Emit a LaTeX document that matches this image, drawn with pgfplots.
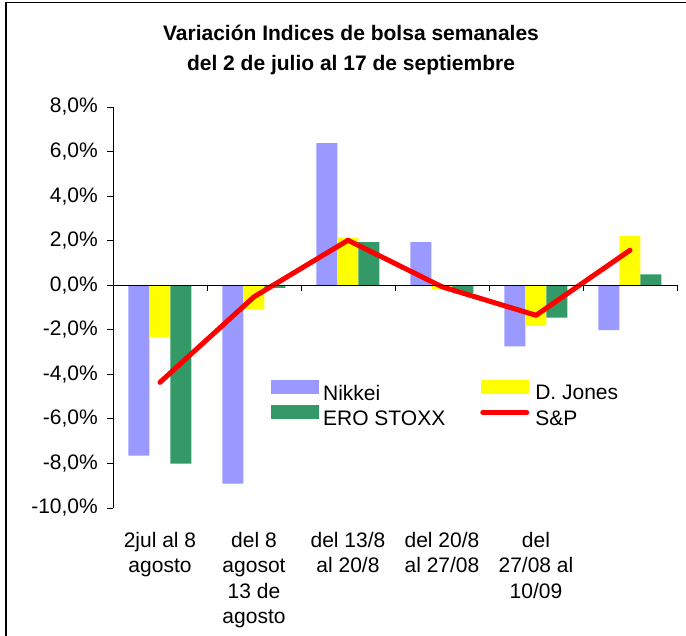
\documentclass[border=0pt]{standalone}
\usepackage{fontspec}
\setmainfont{Liberation Sans}
\usepackage{pgfplots}
\pgfplotsset{compat=1.18}
\definecolor{nik}{HTML}{9999FF}
\definecolor{dj}{HTML}{FFFF00}
\definecolor{ero}{HTML}{339966}
\definecolor{sp}{HTML}{FF0000}
\pgfplotsset{
  barleg/.style={legend image code/.code={\fill[##1] (0pt,0pt) rectangle (48pt,14pt); \path (50pt,7pt);}},
  lineleg/.style={legend image code/.code={\draw[##1] (2pt,7pt) -- (46pt,7pt); \path (50pt,7pt);}},
}
\begin{document}
\fontsize{21}{25}\selectfont
\begin{tikzpicture}
\path[use as bounding box] (0pt,0pt) rectangle (686pt,636pt);
\draw[line width=1.5pt] (6pt,0pt) -- (6pt,633.5pt) -- (686pt,633.5pt);
\node[align=center, font=\bfseries\fontsize{21}{30}\selectfont] at (351pt,586pt) {Variación Indices de bolsa semanales\\del 2 de julio al 17 de septiembre};
\begin{axis}[
  at={(113pt,128pt)}, anchor=south west, scale only axis,
  width=564pt, height=401pt,
  xmin=-0.5, xmax=5.5, ymin=-10, ymax=8,
  axis y line*=left, axis x line*=bottom,
  x axis line style={draw=none},
  y axis line style={line width=0.8pt},
  ytick={-10,-8,...,8},
  yticklabels={{-10,0\%},{-8,0\%},{-6,0\%},{-4,0\%},{-2,0\%},{0,0\%},{2,0\%},{4,0\%},{6,0\%},{8,0\%}},
  tick align=outside, major tick length=6pt,
  y tick style={line width=0.8pt, black},
  xtick={0,1,2,3,4,5},
  x tick style={draw=none},
  xticklabels={{2jul al 8\\agosto},{del 8\\agosot\\13 de\\agosto},{del 13/8\\al 20/8},{del 20/8\\al 27/08},{del\\27/08 al\\10/09},{}},
  xticklabel style={align=center, anchor=north, inner sep=0pt, yshift=-18pt, font=\fontsize{21}{25.5}\selectfont},
  yticklabel style={anchor=east, inner sep=0pt, xshift=-9pt, font=\fontsize{21}{25}\selectfont},
  legend columns=2,
  legend style={at={(0.280,0.319)}, anchor=north west, draw=none, fill=none, inner sep=0pt,
    row sep=0pt, font=\fontsize{21}{25}\selectfont,
    /tikz/every even column/.append style={column sep=33pt}},
  legend cell align=left,
  clip=false,
]
\addplot[ybar, bar width=21pt, bar shift=-21pt, fill=nik, draw=none, barleg]
  coordinates {(0,-7.65) (1,-8.91) (2,6.38) (3,1.93) (4,-2.74) (5,-2.02)};
\addlegendentry{Nikkei}
\addplot[ybar, bar width=21pt, bar shift=0pt, fill=dj, draw=none, barleg]
  coordinates {(0,-2.33) (1,-1.08) (2,2.14) (3,-0.19) (4,-1.82) (5,2.20)};
\addlegendentry{D. Jones}
\addplot[ybar, bar width=21pt, bar shift=21pt, fill=ero, draw=none, barleg]
  coordinates {(0,-8.01) (1,-0.12) (2,1.93) (3,-0.36) (4,-1.46) (5,0.49)};
\addlegendentry{ERO STOXX}
\addplot[sp, line width=5pt, line join=round, line cap=round, mark=none, lineleg]
  coordinates {(0,-4.36) (1,-0.52) (2,2.02) (3,-0.07) (4,-1.35) (5,1.57)};
\addlegendentry{S\&P}
\draw[line width=0.8pt] (axis cs:-0.5,0) -- (axis cs:5.5,0);
\draw[line width=0.8pt] (axis cs:0.5,0) -- ++(0pt,-6pt);
\draw[line width=0.8pt] (axis cs:1.5,0) -- ++(0pt,-6pt);
\draw[line width=0.8pt] (axis cs:2.5,0) -- ++(0pt,-6pt);
\draw[line width=0.8pt] (axis cs:3.5,0) -- ++(0pt,-6pt);
\draw[line width=0.8pt] (axis cs:4.5,0) -- ++(0pt,-6pt);
\draw[line width=0.8pt] (axis cs:5.5,0) -- ++(0pt,-6pt);
\end{axis}
\end{tikzpicture}
\end{document}
